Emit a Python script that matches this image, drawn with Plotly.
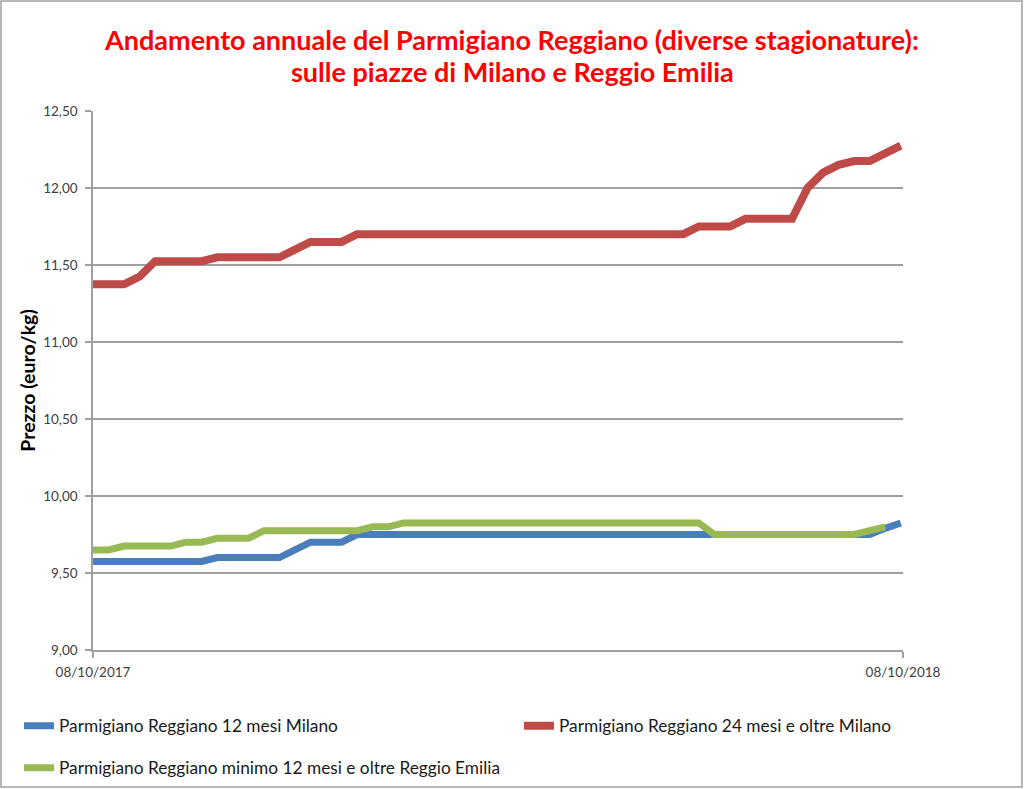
import pandas as pd
import plotly.graph_objects as go

dates = pd.date_range("2017-10-08", periods=53, freq="7D")

milano_12 = [9.575]*8 + [9.60]*5 + [9.65] + [9.70]*3 + [9.75]*34 + [9.79, 9.825]
milano_24 = ([11.375]*3 + [11.425] + [11.525]*4 + [11.55]*5 + [11.60] + [11.65]*3 +
             [11.70]*22 + [11.75]*3 + [11.80]*4 + [12.00, 12.10, 12.15, 12.175, 12.175, 12.225, 12.275])
reggio_min12 = ([9.65]*2 + [9.675]*4 + [9.70]*2 + [9.725]*3 + [9.775]*7 + [9.80]*2 +
                [9.825]*8 + [9.83] + [9.825]*11 + [9.75]*10 + [9.775, 9.80, None])

names = ["Parmigiano Reggiano 12 mesi Milano",
         "Parmigiano Reggiano 24 mesi e oltre Milano",
         "Parmigiano Reggiano minimo 12 mesi e oltre Reggio Emilia"]
colors = ["#4A7EBB", "#BE4B48", "#98B954"]
x_ticks = ["2017-10-08", "2018-10-08"]
x_ticktext = ["08/10/2017", "08/10/2018"]
y_ticks = [9.0, 9.5, 10.0, 10.5, 11.0, 11.5, 12.0, 12.5]
title_lines = ["Andamento annuale del Parmigiano Reggiano (diverse stagionature):",
               "sulle piazze di Milano e Reggio Emilia"]

FONT = "Lato"
L, R, T, B = 93, 121, 111, 139
W, H = 1024, 789
PW, PH = W - L - R, H - T - B

def px_x(p):
    return (p - L) / PW

def px_y(p):
    return (H - B - p) / PH

fig = go.Figure()
legend_ids = ["legend", "legend2", "legend3"]
widths = [7, 8, 7]
for series, name, color, leg, w in zip([milano_12, milano_24, reggio_min12], names, colors,
                                       legend_ids, widths):
    fig.add_trace(go.Scatter(x=dates, y=series, name=name, mode="lines",
                             line=dict(color=color, width=w), legend=leg,
                             showlegend=True, connectgaps=False))

leg_font = dict(family=FONT, size=17.3, color="#1a1a1a")
def legend_at(xp, yp):
    return dict(orientation="h", xref="container", yref="container",
                x=xp / W, xanchor="left", y=1 - yp / H, yanchor="middle",
                font=leg_font, bgcolor="rgba(0,0,0,0)", visible=True)

fig.update_layout(
    width=W, height=H, showlegend=True,
    margin=dict(l=L, r=R, t=T, b=B),
    paper_bgcolor="white", plot_bgcolor="white",
    separators=",.",
    font=dict(family=FONT, color="#333333", size=13),
    title=dict(text=title_lines[0], x=0.5, xanchor="center", y=1 - 41/H, yanchor="middle",
               font=dict(family=FONT, size=27, color="#FF0000", weight="bold")),
    annotations=[dict(text=title_lines[1], xref="paper", yref="paper", x=0.5 + (512 - (L + PW/2))/PW,
                      y=px_y(71), xanchor="center", yanchor="middle", showarrow=False,
                      font=dict(family=FONT, size=27, color="#FF0000", weight="bold"))],
    xaxis=dict(type="date", range=["2017-10-08", "2018-10-08"],
               tickvals=x_ticks, ticktext=x_ticktext, automargin=False,
               showgrid=False, showline=True, linecolor="#A0A0A0", linewidth=1.5,
               ticks="outside", ticklen=6, tickcolor="#A0A0A0", tickwidth=1.5,
               ticklabelstandoff=3,
               tickfont=dict(family=FONT, size=13.5, color="#404040"), zeroline=False),
    yaxis=dict(range=[9.0, 12.5], tickvals=y_ticks, tickformat=".2f", automargin=False,
               showgrid=True, gridcolor="#A0A0A0", gridwidth=1.5,
               showline=True, linecolor="#A0A0A0", linewidth=1.5,
               ticks="outside", ticklen=6, tickcolor="#A0A0A0", tickwidth=1.5,
               ticklabelstandoff=5,
               tickfont=dict(family=FONT, size=13.5, color="#404040"),
               title=dict(text="Prezzo (euro/kg)", standoff=2,
                          font=dict(family=FONT, size=19.5, color="#000000", weight="bold")),
               zeroline=False),
    legend=legend_at(19, 726),
    legend2=legend_at(519, 726),
    legend3=legend_at(19, 768),
    shapes=[dict(type="rect", xref="paper", yref="paper",
                 x0=px_x(1), x1=px_x(1022), y0=px_y(787), y1=px_y(1),
                 line=dict(color="#A0A0A0", width=1.5), fillcolor="rgba(0,0,0,0)", layer="below")],
)

fig.write_html("out.html", config={"displayModeBar": False},
               post_script="document.body.style.margin='0';")
